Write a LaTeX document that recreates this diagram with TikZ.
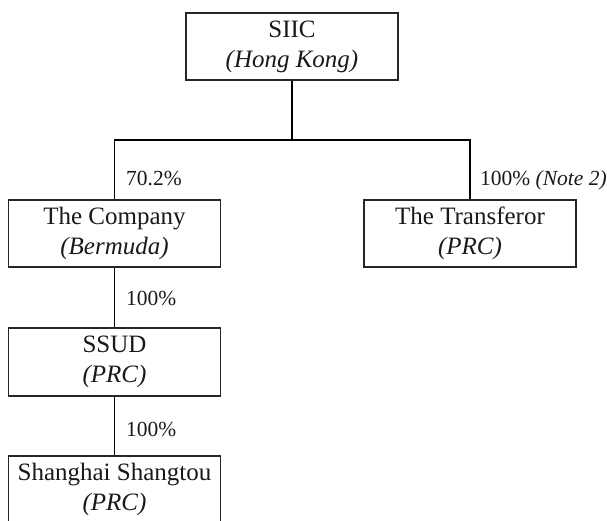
\documentclass[tikz,border=0pt]{standalone}
\usepackage{fontspec}
\setmainfont{Liberation Serif}
\begin{document}
\begin{tikzpicture}[x=1pt,y=-1pt,
  box/.style={draw=black!85, line width=1.1pt, rectangle, inner sep=0pt,
    minimum width=212pt, minimum height=67pt, align=center,
    font=\fontsize{25}{30}\selectfont, text=black!90},
  pct/.style={anchor=base west, inner sep=0pt,
    font=\fontsize{21.5}{25}\selectfont, text=black!90},
  link/.style={draw=black, line width=1.1pt}]
\useasboundingbox (0,0) rectangle (607,520);
\clip (0,0) rectangle (607,520);
\node[box] (siic) at (292,46.5) {SIIC\\\itshape (Hong Kong)};
\node[box] (company) at (114.5,233.5) {The Company\\\itshape (Bermuda)};
\node[box] (transferor) at (470,233.5) {The Transferor\\\itshape (PRC)};
\node[box, minimum height=68pt] (ssud) at (114.5,362) {SSUD\\\itshape (PRC)};
\node[box] (shangtou) at (114.5,489.5) {Shanghai Shangtou\\\itshape (PRC)};
\coordinate (j) at (292,140);
\draw[link] (siic.south) -- (j);
\draw[link] (company.north) |- (j) -| (transferor.north);
\draw[link] (company.south) -- (ssud.north);
\draw[link] (ssud.south) -- (shangtou.north);
\node[pct] (p1) at (126,185) {70.2\%};
\node[pct] (p2) at (480,185) {100\% \textit{(Note 2)}};
\node[pct] (p3) at (126,305) {100\%};
\node[pct] (p4) at (126,436) {100\%};
\end{tikzpicture}
\end{document}
